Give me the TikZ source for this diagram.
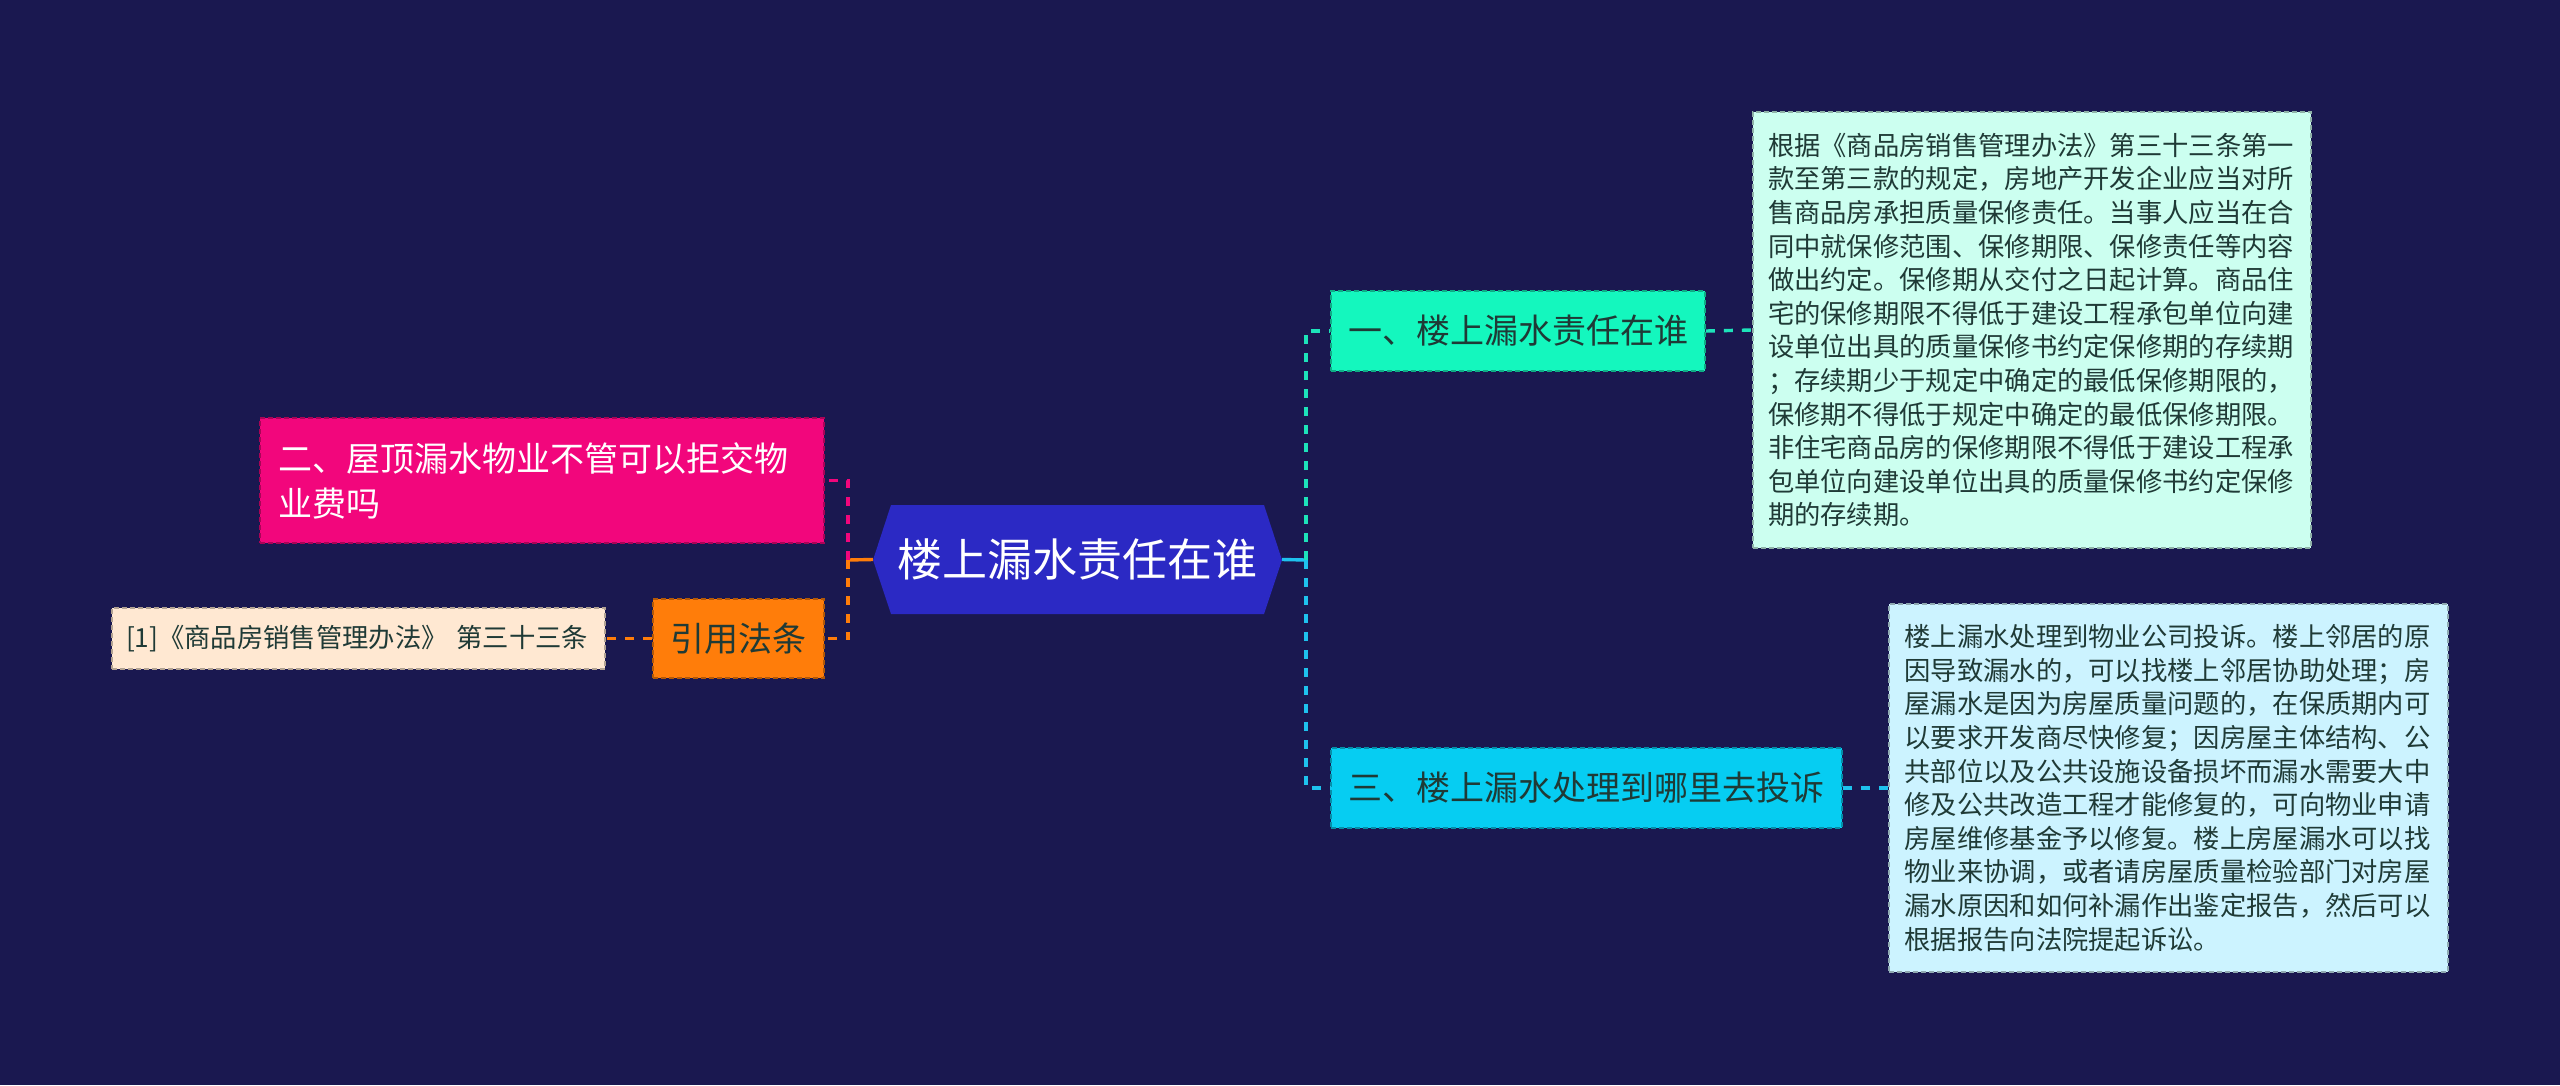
\documentclass[tikz,border=0pt]{standalone}
\usepackage{fontspec}
\newfontfamily\cjk{Noto Sans CJK SC}
\definecolor{bg}{HTML}{1A1850}
\definecolor{rootc}{HTML}{2B29C4}
\definecolor{onec}{HTML}{14F7BE}
\definecolor{threec}{HTML}{06CDF2}
\definecolor{twoc}{HTML}{F2067C}
\definecolor{citec}{HTML}{FF7D0A}
\definecolor{leafone}{HTML}{CCFFF0}
\definecolor{leafthree}{HTML}{CCF3FF}
\definecolor{leafcite}{HTML}{FFE8D2}
\definecolor{tealline}{HTML}{1DE3BA}
\definecolor{cyanline}{HTML}{1EC2EE}
\definecolor{dtext}{HTML}{1F3A36}
\tikzset{
  x=1pt, y=-1pt,
  box/.style={inner sep=0pt, align=left, anchor=center, draw=#1!70!black, dashed, dash pattern=on 5pt off 3pt, line width=1.6pt, fill=#1},
  mainfont/.style={font=\cjk\fontsize{34}{45}\selectfont},
  leaffont/.style={font=\cjk\fontsize{26.3}{33.6}\selectfont},
  conn/.style={line width=3.4pt, dash pattern=on 9pt off 9pt},
}
\begin{document}
\begin{tikzpicture}
\useasboundingbox (0,0) rectangle (2560,1085);
\fill[bg] (0,0) rectangle (2560,1085);

% root hexagon
\fill[rootc] (873,560) -- (891,505) -- (1264,505) -- (1282,560) -- (1264,614) -- (891,614) -- cycle;
\node[inner sep=0pt, minimum width=409pt, minimum height=109pt, text=white, font=\cjk\fontsize{45}{50}\selectfont] (root) at (1077.5,559.5) {楼上漏水责任在谁};

% right main nodes
\node[box=onec, mainfont, text=dtext, minimum width=374pt, minimum height=80pt, text width=340pt] (one) at (1518,331) {一、楼上漏水责任在谁};
\node[box=threec, mainfont, text=dtext, minimum width=511pt, minimum height=80pt, text width=477pt] (three) at (1586.5,788) {三、楼上漏水处理到哪里去投诉};

% left main nodes
\node[box=twoc, mainfont, text=white, minimum width=564pt, minimum height=125pt, text width=528pt] (two) at (542,480.5) {二、屋顶漏水物业不管可以拒交物\\业费吗};
\node[box=citec, mainfont, text=dtext, minimum width=171pt, minimum height=79pt, text width=137pt] (cite) at (738.5,638.5) {引用法条};

% leaves
\node[box=leafone, leaffont, text=dtext, minimum width=558pt, minimum height=436pt, text width=528pt] (leafa) at (2032,330) {根据《商品房销售管理办法》第三十三条第一\\款至第三款的规定，房地产开发企业应当对所\\售商品房承担质量保修责任。当事人应当在合\\同中就保修范围、保修期限、保修责任等内容\\做出约定。保修期从交付之日起计算。商品住\\宅的保修期限不得低于建设工程承包单位向建\\设单位出具的质量保修书约定保修期的存续期\\；存续期少于规定中确定的最低保修期限的，\\保修期不得低于规定中确定的最低保修期限。\\非住宅商品房的保修期限不得低于建设工程承\\包单位向建设单位出具的质量保修书约定保修\\期的存续期。};
\node[box=leafthree, leaffont, text=dtext, minimum width=559pt, minimum height=368pt, text width=528pt] (leafc) at (2168.5,788) {楼上漏水处理到物业公司投诉。楼上邻居的原\\因导致漏水的，可以找楼上邻居协助处理；房\\屋漏水是因为房屋质量问题的，在保质期内可\\以要求开发商尽快修复；因房屋主体结构、公\\共部位以及公共设施设备损坏而漏水需要大中\\修及公共改造工程才能修复的，可向物业申请\\房屋维修基金予以修复。楼上房屋漏水可以找\\物业来协调，或者请房屋质量检验部门对房屋\\漏水原因和如何补漏作出鉴定报告，然后可以\\根据报告向法院提起诉讼。};
\node[box=leafcite, leaffont, text=dtext, minimum width=493pt, minimum height=61pt, text width=465pt] (ref) at (358.5,638.5) {[1]《商品房销售管理办法》 第三十三条};

% connectors right
\coordinate (rj) at (1306,560);
\draw[line width=3.4pt, cyanline] (root.east) -- (rj);
\draw[conn, tealline] (rj) |- (one.west);
\draw[conn, cyanline] (rj) |- (three.west);
\draw[conn, tealline] (one.east) -- (leafa.west);
\draw[conn, cyanline] (three.east) -- (leafc.west);

% connectors left
\coordinate (lj) at (848,560);
\draw[line width=3.4pt, citec] (root.west) -- (lj);
\draw[conn, twoc] (lj) |- (two.east);
\draw[conn, citec] (lj) |- (cite.east);
\draw[conn, citec] (cite.west) -- (ref.east);
\end{tikzpicture}
\end{document}
